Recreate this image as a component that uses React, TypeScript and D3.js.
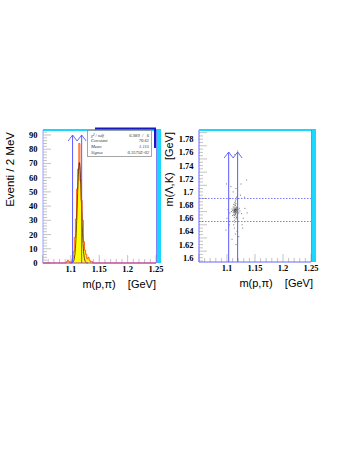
import React, { useRef, useEffect } from 'react';
import * as d3 from 'd3';

// histogram of m(p,pi): 2 MeV bins starting at histStart
const histStart = 1.088;
const binWidth = 0.002;
const counts = [0, 0, 1, 2, 1, 0, 1, 3, 8, 18, 31, 52, 66, 84, 58, 44, 30, 15, 9, 6, 3, 4, 2, 1, 1, 0];

// gaussian fit parameters (stats box)
const fitConstant = 70.61;
const fitMean = 1.115;
const fitSigma = 0.003575;
const statLabels = ['\u03c7\u00b2 / ndf', 'Constant', 'Mean', 'Sigma'];
const statValues = ['6.989  /   6', '70.61', '1.115', '0.3575E-02'];

// mass window cuts
const lambdaCut = [1.103, 1.119];
const lkCut = [1.655, 1.69];

const xTicks = [1.1, 1.15, 1.2, 1.25];
const yTicksLeft = [0, 10, 20, 30, 40, 50, 60, 70, 80, 90];
const yTicksRight = [1.6, 1.62, 1.64, 1.66, 1.68, 1.7, 1.72, 1.74, 1.76, 1.78];

// scatter m(p,pi) vs m(Lambda,K)
const scatter: [number, number][] = [
  [1.114, 1.672], [1.115, 1.671], [1.116, 1.673], [1.113, 1.670], [1.115, 1.674], [1.117, 1.672],
  [1.114, 1.669], [1.116, 1.670], [1.115, 1.668], [1.113, 1.673], [1.112, 1.671], [1.118, 1.671],
  [1.114, 1.675], [1.116, 1.676], [1.115, 1.666], [1.113, 1.677], [1.117, 1.669], [1.112, 1.674],
  [1.116, 1.667], [1.114, 1.665], [1.118, 1.674], [1.111, 1.669], [1.119, 1.670], [1.113, 1.664],
  [1.115, 1.679], [1.114, 1.680], [1.117, 1.677], [1.112, 1.666], [1.116, 1.663], [1.110, 1.672],
  [1.120, 1.673], [1.115, 1.682], [1.113, 1.661], [1.118, 1.665], [1.111, 1.677], [1.119, 1.676],
  [1.114, 1.684], [1.116, 1.659], [1.112, 1.681], [1.117, 1.661], [1.109, 1.674], [1.121, 1.668],
  [1.115, 1.686], [1.113, 1.657], [1.118, 1.682], [1.110, 1.664], [1.122, 1.675], [1.114, 1.654],
  [1.116, 1.688], [1.108, 1.670], [1.123, 1.671], [1.112, 1.650], [1.117, 1.692], [1.113, 1.645],
  [1.118, 1.640], [1.115, 1.636], [1.111, 1.700], [1.116, 1.705], [1.105, 1.668], [1.126, 1.667],
  [1.129, 1.660], [1.102, 1.673], [1.132, 1.675], [1.098, 1.642], [1.127, 1.650], [1.106, 1.690],
  [1.124, 1.695], [1.114, 1.757], [1.119, 1.762], [1.135, 1.718], [1.099, 1.712], [1.128, 1.645],
  [1.100, 1.660], [1.136, 1.668], [1.121, 1.632], [1.109, 1.628], [1.131, 1.692], [1.104, 1.650],
  [1.107, 1.708], [1.125, 1.712], [1.116, 1.620], [1.114, 1.671], [1.115, 1.673], [1.116, 1.672],
  [1.113, 1.672], [1.115, 1.670], [1.114, 1.673], [1.116, 1.674], [1.113, 1.668], [1.117, 1.674],
];

const frameBlue = '#6464ff';
const cutBlue = '#5a5aff';
const cyan = '#18d8ff';
const tickGray = '#b4b4b4';
const labelFont = '"Liberation Serif", "Times New Roman", serif';
const titleFont = '"Liberation Sans", Arial, sans-serif';

const App = () => {
  const ref = useRef<SVGSVGElement | null>(null);

  useEffect(() => {
    if (!ref.current) return;
    const svg = d3.select(ref.current);
    svg.selectAll('*').remove();

    // ---------- left pad: histogram ----------
    const x1 = d3.scaleLinear().domain([1.05, 1.25]).range([42.5, 156]);
    const y1 = d3.scaleLinear().domain([0, 93.5]).range([263, 130]);
    const g1 = svg.append('g');

    // minor / major ticks
    const xMinor = d3.range(1.05, 1.2501, 0.01);
    g1.selectAll('.xt').data(xMinor).enter().append('line')
      .attr('x1', d => x1(d)).attr('x2', d => x1(d))
      .attr('y1', 263).attr('y2', (d, i) => 263 - (i % 5 === 0 ? 8 : 4))
      .attr('stroke', tickGray).attr('stroke-width', 0.8);
    const yMinor = d3.range(0, 93, 2);
    g1.selectAll('.yt').data(yMinor).enter().append('line')
      .attr('x1', 43).attr('x2', (d, i) => 43 + (i % 5 === 0 ? 8 : 4))
      .attr('y1', d => y1(d)).attr('y2', d => y1(d))
      .attr('stroke', tickGray).attr('stroke-width', 0.8);

    // histogram
    const full: [number, number][] = [];
    for (let i = 0; i < 100; i++) {
      const lo = 1.05 + i * binWidth;
      const k = Math.round((lo - histStart) / binWidth);
      full.push([lo, k >= 0 && k < counts.length ? counts[k] : 0]);
    }
    const stepArea = d3.area<[number, number]>()
      .x(d => x1(d[0])).y0(y1(0)).y1(d => y1(d[1])).curve(d3.curveStepAfter);
    const pts = full.concat([[1.25, 0]]);
    g1.append('path').attr('d', stepArea(pts)).attr('fill', '#ffff00');
    const stepLine = d3.line<[number, number]>()
      .x(d => x1(d[0])).y(d => y1(d[1])).curve(d3.curveStepAfter);
    g1.append('path').attr('d', stepLine(pts)).attr('fill', 'none')
      .attr('stroke', '#ff4010').attr('stroke-width', 0.8);

    // gaussian fit curve
    const fx = d3.range(1.100, 1.1301, 0.0005);
    const fit = d3.line<number>()
      .x(d => x1(d))
      .y(d => y1(fitConstant * Math.exp(-0.5 * ((d - fitMean) / fitSigma) ** 2)));
    g1.append('path').attr('d', fit(fx)).attr('fill', 'none')
      .attr('stroke', '#3a0000').attr('stroke-width', 0.7);

    // frame
    g1.append('line').attr('x1', 43).attr('x2', 43).attr('y1', 130).attr('y2', 263)
      .attr('stroke', '#a0a0ff').attr('stroke-width', 1);
    g1.append('line').attr('x1', 43).attr('x2', 156).attr('y1', 263).attr('y2', 263)
      .attr('stroke', '#a040c0').attr('stroke-width', 1);
    g1.append('rect').attr('x', 43).attr('y', 129).attr('width', 118).attr('height', 2).attr('fill', cyan);
    g1.append('rect').attr('x', 157).attr('y', 129).attr('width', 4).attr('height', 134).attr('fill', cyan);
    g1.append('line').attr('x1', 156.5).attr('x2', 156.5).attr('y1', 130).attr('y2', 263)
      .attr('stroke', frameBlue).attr('stroke-width', 0.8);

    // cut arrows
    const arrows = (g: any, xs: number[], yTop: number, yBot: number) => {
      xs.forEach(x => {
        g.append('line').attr('x1', x).attr('x2', x).attr('y1', yTop).attr('y2', yBot)
          .attr('stroke', cutBlue).attr('stroke-width', 1);
        g.append('path').attr('d', `M${x - 4.5},${yTop + 6}L${x},${yTop}L${x + 4.5},${yTop + 6}`)
          .attr('fill', 'none').attr('stroke', cutBlue).attr('stroke-width', 0.9);
      });
    };
    arrows(g1, lambdaCut.map(v => x1(v)), 135, 263);

    // stats box
    g1.append('path').attr('d', 'M95,128.5H155V148').attr('fill', 'none')
      .attr('stroke', '#1818c0').attr('stroke-width', 2);
    g1.append('rect').attr('x', 87.5).attr('y', 130.5).attr('width', 64).attr('height', 26)
      .attr('fill', 'white').attr('stroke', '#909090').attr('stroke-width', 0.8);
    statLabels.forEach((s, i) => {
      g1.append('text').attr('x', 91).attr('y', 136.5 + i * 5.8).text(s)
        .attr('font-family', labelFont).attr('font-style', 'italic').attr('font-size', 4.6).attr('fill', '#333');
      g1.append('text').attr('x', 149).attr('y', 136.5 + i * 5.8).text(statValues[i])
        .attr('text-anchor', 'end').style('white-space', 'pre')
        .attr('font-family', labelFont).attr('font-style', 'italic').attr('font-size', 4.6).attr('fill', '#333');
    });

    // labels
    g1.selectAll('.xl').data(xTicks).enter().append('text')
      .attr('x', d => x1(d)).attr('y', 272).attr('text-anchor', 'middle')
      .attr('font-family', labelFont).attr('font-weight', 'bold').attr('font-size', 8.5)
      .text(d => String(d));
    g1.selectAll('.yl').data(yTicksLeft).enter().append('text')
      .attr('x', 37.5).attr('y', d => y1(d) + 3).attr('text-anchor', 'end')
      .attr('font-family', labelFont).attr('font-weight', 'bold').attr('font-size', 8.5)
      .text(d => String(d));
    g1.append('text').attr('x', 156).attr('y', 288).attr('text-anchor', 'end')
      .attr('font-family', titleFont).attr('font-size', 11).style('white-space', 'pre')
      .text('m(p,\u03c0)    [GeV]');
    g1.append('text').attr('transform', 'translate(14,132) rotate(-90)').attr('text-anchor', 'end')
      .attr('font-family', titleFont).attr('font-size', 11.5)
      .text('Eventi / 2 MeV');

    // ---------- right pad: scatter ----------
    const x2 = d3.scaleLinear().domain([1.05, 1.25]).range([199, 311]);
    const y2 = d3.scaleLinear().domain([1.5935, 1.794]).range([262, 130]);
    const g2 = svg.append('g');

    g2.selectAll('.xt').data(xMinor).enter().append('line')
      .attr('x1', d => x2(d)).attr('x2', d => x2(d))
      .attr('y1', 262).attr('y2', (d, i) => 262 - (i % 5 === 0 ? 8 : 4))
      .attr('stroke', tickGray).attr('stroke-width', 0.8);
    const y2Minor = d3.range(1.595, 1.794, 0.005);
    g2.selectAll('.yt').data(y2Minor).enter().append('line')
      .attr('x1', 199).attr('x2', (d, i) => 199 + ((i + 1) % 4 === 0 ? 8 : 4))
      .attr('y1', d => y2(d)).attr('y2', d => y2(d))
      .attr('stroke', tickGray).attr('stroke-width', 0.8);

    g2.selectAll('rect.pt').data(scatter).enter().append('rect')
      .attr('x', d => x2(d[0]) - 0.5).attr('y', d => y2(d[1]) - 0.5)
      .attr('width', 1).attr('height', 1).attr('fill', '#444').attr('opacity', 0.75);

    lkCut.forEach(v => {
      g2.append('line').attr('x1', 199).attr('x2', 311).attr('y1', y2(v)).attr('y2', y2(v))
        .attr('stroke', cutBlue).attr('stroke-width', 0.8).attr('stroke-dasharray', '1.5,1.5');
    });
    arrows(g2, lambdaCut.map(v => x2(v)), 152, 262);

    g2.append('line').attr('x1', 199).attr('x2', 199).attr('y1', 130).attr('y2', 262)
      .attr('stroke', frameBlue).attr('stroke-width', 1);
    g2.append('line').attr('x1', 199).attr('x2', 311).attr('y1', 262).attr('y2', 262)
      .attr('stroke', frameBlue).attr('stroke-width', 1);
    g2.append('rect').attr('x', 199).attr('y', 129).attr('width', 117).attr('height', 2).attr('fill', cyan);
    g2.append('rect').attr('x', 312).attr('y', 129).attr('width', 4).attr('height', 133).attr('fill', cyan);
    g2.append('line').attr('x1', 311.5).attr('x2', 311.5).attr('y1', 130).attr('y2', 262)
      .attr('stroke', frameBlue).attr('stroke-width', 0.8);

    g2.selectAll('.xl').data(xTicks).enter().append('text')
      .attr('x', d => x2(d)).attr('y', 271).attr('text-anchor', 'middle')
      .attr('font-family', labelFont).attr('font-weight', 'bold').attr('font-size', 8.5)
      .text(d => String(d));
    g2.selectAll('.yl').data(yTicksRight).enter().append('text')
      .attr('x', 193.5).attr('y', d => y2(d) + 3).attr('text-anchor', 'end')
      .attr('font-family', labelFont).attr('font-weight', 'bold').attr('font-size', 8.5)
      .text(d => String(d));
    g2.append('text').attr('x', 313).attr('y', 287).attr('text-anchor', 'end')
      .attr('font-family', titleFont).attr('font-size', 11).style('white-space', 'pre')
      .text('m(p,\u03c0)    [GeV]');
    g2.append('text').attr('transform', 'translate(173,132) rotate(-90)').attr('text-anchor', 'end')
      .attr('font-family', titleFont).attr('font-size', 11).style('white-space', 'pre')
      .text('m(\u039b,K)    [GeV]');
  }, []);

  return (
    <svg ref={ref} width={357} height={462}
      style={{ position: 'absolute', left: 0, top: 0, background: 'white' }}></svg>
  );
};

export default App;
